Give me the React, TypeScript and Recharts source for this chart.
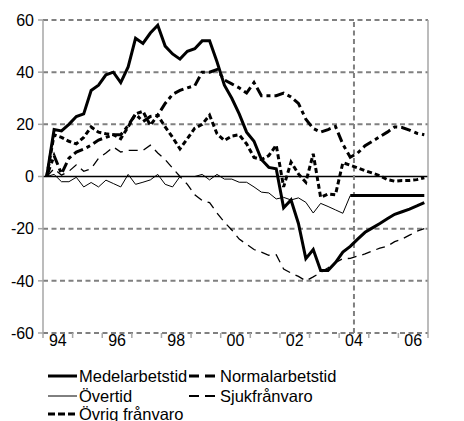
import { LineChart, Line, XAxis, YAxis, CartesianGrid, ReferenceLine, Legend } from "recharts";

const startYear = 1994;

// quarterly index values, 1994 Q1 - 2006 Q4
const medelarbetstid = [
  0, 18, 17.5, 20, 23, 24, 33, 35, 39, 40, 36, 42,
  53, 51, 55, 58, 50, 47, 45, 48, 49, 52, 52, 44,
  35, 30, 24, 17, 13.5, 6.5, 3.5, 3, -12, -9, -18, -31.5,
  -28, -36, -36, -33, -29, -26.8, -24, -21.4, -19.7, -18, -16.2, -14.5,
  -13.5, -12.5, -11.3, -10,
];
const normalarbetstid = [
  0, 8, 1, 7, 9.4, 10.5, 12, 14, 15, 16, 16, 19.5,
  24, 21, 23, 23.5, 28, 31.5, 33, 34, 34.8, 40, 40, 41,
  37, 35.5, 34, 32, 36, 31, 31, 31, 32, 30.5, 28, 22,
  18.4, 17, 18, 19.2, 12.4, 7.4, 9, 11.8, 13.5, 15.3, 17, 19,
  18.8, 17.8, 16.6, 16,
];
const overtid = [
  0, 0.8, -2, -2, -0.3, -4, -2.3, -4, -1.4, -2.7, -4, 0.8,
  -3, -2.2, -1.3, 0.8, -3, -4, 0, 0, 0, 0.8, -1.3, 0.8,
  -1, -1, -2.2, -2.2, -4, -6, -6.3, -8.6, -8, -9, -8.2, -9.9,
  -14, -10.3, -11.5, -12.8, -14.1, -7.3, null, null, null, null, null, null,
  null, null, null, null,
];
const overtidPrognos = [
  null, null, null, null, null, null, null, null, null, null, null, null,
  null, null, null, null, null, null, null, null, null, null, null, null,
  null, null, null, null, null, null, null, null, null, null, null, null,
  null, null, null, null, null, -7.3, -7.3, -7.3, -7.3, -7.3, -7.3, -7.3,
  -7.3, -7.3, -7.3, -7.3,
];
const sjukfranvaro = [
  0, 3, 0.5, 2, 4.5, 2, 3, 7, 9, 11.3, 9.4, 10,
  10, 10, 12, 9, 6.5, 3.2, 0, -3, -7, -9.2, -10, -14,
  -17.5, -20.5, -24, -26, -28, -29, -30.2, -30, -35.5, -37, -38.3, -40,
  -38.5, -36.8, -35, -33, -31.5, -31.4, -30.5, -29.7, -28.5, -27.5, -26.7, -25,
  -24, -22.5, -21, -20,
];
const ovrigFranvaro = [
  0, 16, 15, 13.5, 12.5, 15, 19, 17, 16.4, 16, 14.5, 19,
  24, 25, 19.6, 23.5, 19, 15, 10.6, 14.5, 18.5, 20, 23.5, 16.4,
  13.8, 15.5, 16, 12.5, 7.3, 6.5, 8, 12, -4, 5.5, 1, -2.2,
  8.7, -8, -6.7, -7, 5.3, 4.3, 3.3, 2.2, 1.3, 0.3, -1.2, -1.8,
  -1.5, -1.5, -1.2, -0.5,
];

const yTicks = [-60, -40, -20, 0, 20, 40, 60];
const gridValues = [-60, -40, -20, 20, 40, 60];
const yearTicks = [1994, 1995, 1996, 1997, 1998, 1999, 2000, 2001, 2002, 2003, 2004, 2005, 2006, 2007];
const labelYears = [1994, 1996, 1998, 2000, 2002, 2004, 2006];
const forecastStart = 2004.5;

const data = medelarbetstid.map((v, i) => ({
  t: startYear + (i + 0.5) / 4,
  medel: v,
  normal: normalarbetstid[i],
  overtid: overtid[i],
  overtidPrognos: overtidPrognos[i],
  sjuk: sjukfranvaro[i],
  ovrig: ovrigFranvaro[i],
}));

const series = [
  { key: "medel", name: "Medelarbetstid", width: 3, dash: undefined, legendDash: undefined },
  { key: "normal", name: "Normalarbetstid", width: 3, dash: "10 4 4 4", legendDash: "10 6" },
  { key: "overtid", name: "Övertid", width: 1, dash: undefined, legendDash: undefined },
  { key: "sjuk", name: "Sjukfrånvaro", width: 1.3, dash: "9 6", legendDash: "10 6" },
  { key: "ovrig", name: "Övrig frånvaro", width: 3, dash: "5 3", legendDash: "7 3" },
];

const FONT = "'Liberation Sans', Arial, sans-serif";
const W = 456;
const H = 413;
const LEFT_W = 35;
const RIGHT_W = 36;
const PLOT_W = W - LEFT_W - RIGHT_W;
const HALF_YEAR = PLOT_W / ((yearTicks.length - 1) * 2);
const GRID = "#808080";
const AXIS = "#a6a6a6";

function YearTick(props: any) {
  const { x, y, payload } = props;
  if (!labelYears.includes(payload.value)) return <g />;
  return (
    <text x={x + HALF_YEAR} y={y + 6} textAnchor="middle" fontSize={16} fontFamily={FONT} fill="#000">
      {String(payload.value).slice(2)}
    </text>
  );
}

function LegendBox() {
  const cols = [40, 181];
  const rows = [13, 33, 51];
  return (
    <svg width={W} height={62} style={{ overflow: "visible" }}>
      {series.map((s, i) => {
        const lx = cols[i % 2];
        const ly = rows[Math.floor(i / 2)];
        return (
          <g key={s.key}>
            <line x1={lx} x2={lx + 29} y1={ly} y2={ly} stroke="#000" strokeWidth={s.width === 1 ? 1 : s.width === 3 ? 3 : 2} strokeDasharray={s.legendDash} />
            <text x={lx + 31} y={ly + 5.5} fontSize={16.5} fontFamily={FONT} fill="#000">
              {s.name}
            </text>
          </g>
        );
      })}
    </svg>
  );
}

export default function App() {
  return (
    <div style={{ width: W, height: H, fontFamily: FONT }}>
      <LineChart width={W} height={H} data={data} margin={{ top: 12, right: 0, left: 0, bottom: 58 }}>
        <CartesianGrid
          yAxisId="left"
          vertical={false}
          horizontalValues={gridValues}
          stroke={GRID}
          strokeWidth={2}
          strokeDasharray="5 3.5"
        />
        <XAxis
          dataKey="t"
          type="number"
          domain={[1994, 2007]}
          ticks={yearTicks}
          interval={0}
          height={30}
          axisLine={false}
          tickLine={{ stroke: AXIS, strokeWidth: 1.5 }}
          tickSize={5}
          tickMargin={2}
          tick={<YearTick />}
        />
        <YAxis
          yAxisId="left"
          domain={[-60, 60]}
          ticks={yTicks}
          interval={0}
          width={LEFT_W}
          axisLine={{ stroke: AXIS, strokeWidth: 1.5 }}
          tickLine={{ stroke: AXIS, strokeWidth: 1.5 }}
          tickSize={5}
          tickMargin={4}
          tick={{ fill: "#000", fontSize: 16, fontFamily: FONT }}
        />
        <YAxis
          yAxisId="right"
          orientation="right"
          domain={[-60, 60]}
          ticks={yTicks}
          interval={0}
          width={RIGHT_W}
          axisLine={{ stroke: AXIS, strokeWidth: 1.5 }}
          tickLine={{ stroke: AXIS, strokeWidth: 1.5 }}
          tickSize={5}
          tickMargin={4}
          tick={{ fill: "#000", fontSize: 16, fontFamily: FONT }}
        />
        <ReferenceLine yAxisId="left" y={0} stroke="#000" strokeWidth={1.3} />
        <ReferenceLine yAxisId="left" x={forecastStart} stroke={GRID} strokeWidth={2} strokeDasharray="5 3.5" />
        {series.map((s) => (
          <Line
            key={s.key}
            yAxisId="left"
            type="linear"
            dataKey={s.key}
            name={s.name}
            stroke="#000"
            strokeWidth={s.width}
            strokeDasharray={s.dash}
            dot={false}
            connectNulls={false}
            isAnimationActive={false}
          />
        ))}
        <Line
          yAxisId="left"
          type="linear"
          dataKey="overtidPrognos"
          name="Övertid prognos"
          stroke="#000"
          strokeWidth={3}
          dot={false}
          legendType="none"
          isAnimationActive={false}
        />
        <Legend
          layout="horizontal"
          verticalAlign="middle"
          align="center"
          wrapperStyle={{ top: 355, left: 0, width: W, height: 62 }}
          content={() => <LegendBox />}
        />
      </LineChart>
    </div>
  );
}
